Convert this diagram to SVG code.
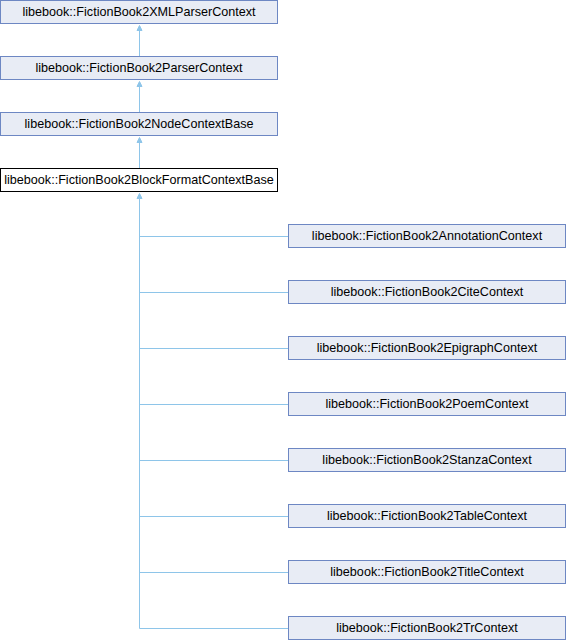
<svg xmlns="http://www.w3.org/2000/svg" width="566" height="640" viewBox="0 0 566 640">
<style>
.n rect{fill:#e8ecf5;stroke:#6d87c3;stroke-width:1}
.a rect{fill:#ffffff;stroke:#000000;stroke-width:1}
text{font-family:"Liberation Sans",Arial,sans-serif;font-size:12.6px;fill:#000;text-anchor:middle}
.e{stroke:#8ec5e9;stroke-width:1;fill:none}
.h{fill:#8ec5e9;stroke:#8ec5e9;stroke-width:1}
</style>
<rect width="566" height="640" fill="#ffffff"/>
<g id="connectors">
<path class="e" d="M139.5,30 V56"/>
<polygon class="h" points="139.5,25.5 142,30.5 137,30.5"/>
<path class="e" d="M139.5,86 V112"/>
<polygon class="h" points="139.5,81.5 142,86.5 137,86.5"/>
<path class="e" d="M139.5,142 V168"/>
<polygon class="h" points="139.5,137.5 142,142.5 137,142.5"/>
<path class="e" d="M139.5,198 V628.5 H288"/>
<polygon class="h" points="139.5,193.5 142,198.5 137,198.5"/>
<path class="e" d="M139.5,236.5 H288 M139.5,292.5 H288 M139.5,348.5 H288 M139.5,404.5 H288 M139.5,460.5 H288 M139.5,516.5 H288 M139.5,572.5 H288"/>
</g>
<g id="n1" class="n"><rect x="0.5" y="0.5" width="277" height="23"/><text x="139" y="16.3">libebook::FictionBook2XMLParserContext</text></g>
<g id="n2" class="n"><rect x="0.5" y="56.5" width="277" height="23"/><text x="139" y="72.3">libebook::FictionBook2ParserContext</text></g>
<g id="n3" class="n"><rect x="0.5" y="112.5" width="277" height="23"/><text x="139" y="128.3">libebook::FictionBook2NodeContextBase</text></g>
<g id="n4" class="a"><rect x="0.5" y="168.5" width="277" height="23"/><text x="139" y="184.3">libebook::FictionBook2BlockFormatContextBase</text></g>
<g id="n5" class="n"><rect x="288.5" y="224.5" width="277" height="23"/><text x="427" y="240.3">libebook::FictionBook2AnnotationContext</text></g>
<g id="n6" class="n"><rect x="288.5" y="280.5" width="277" height="23"/><text x="427" y="296.3">libebook::FictionBook2CiteContext</text></g>
<g id="n7" class="n"><rect x="288.5" y="336.5" width="277" height="23"/><text x="427" y="352.3">libebook::FictionBook2EpigraphContext</text></g>
<g id="n8" class="n"><rect x="288.5" y="392.5" width="277" height="23"/><text x="427" y="408.3">libebook::FictionBook2PoemContext</text></g>
<g id="n9" class="n"><rect x="288.5" y="448.5" width="277" height="23"/><text x="427" y="464.3">libebook::FictionBook2StanzaContext</text></g>
<g id="n10" class="n"><rect x="288.5" y="504.5" width="277" height="23"/><text x="427" y="520.3">libebook::FictionBook2TableContext</text></g>
<g id="n11" class="n"><rect x="288.5" y="560.5" width="277" height="23"/><text x="427" y="576.3">libebook::FictionBook2TitleContext</text></g>
<g id="n12" class="n"><rect x="288.5" y="616.5" width="277" height="23"/><text x="427" y="632.3">libebook::FictionBook2TrContext</text></g>
</svg>
